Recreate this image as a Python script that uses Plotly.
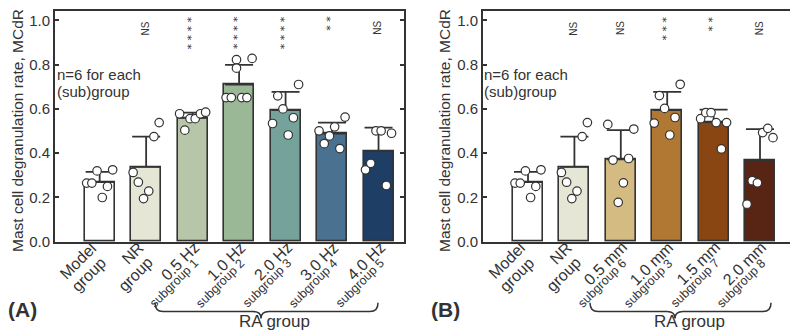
import numpy as np
import plotly.graph_objects as go

W, H = 798, 335
FONT = "Liberation Sans"
INK = "#333333"

# ---------------- data: panel A (frequency) ----------------
a_top = ["Model", "NR", "0.5 Hz", "1.0 Hz", "2.0 Hz", "3.0 Hz", "4.0 Hz"]
a_sub = ["group", "group", "subgroup 1", "subgroup 2", "subgroup 3", "subgroup 4", "subgroup 5"]
a_means = [0.269, 0.338, 0.559, 0.710, 0.594, 0.488, 0.409]
a_sd = [0.047, 0.137, 0.024, 0.089, 0.083, 0.050, 0.106]
a_colors = ["#ffffff", "#e6e6d6", "#b7c6a8", "#9ab895", "#76a29c", "#4a718f", "#1f3e66"]
a_sig = ["", "NS", "* * * *", "* * * *", "* * * *", "* *", "NS"]
a_points = [
    [0.265, 0.265, 0.320, 0.200, 0.250, 0.325],
    [0.313, 0.269, 0.195, 0.229, 0.475, 0.538],
    [0.578, 0.504, 0.556, 0.556, 0.578, 0.585],
    [0.651, 0.651, 0.822, 0.784, 0.651, 0.651, 0.828],
    [0.534, 0.659, 0.600, 0.482, 0.560, 0.710],
    [0.501, 0.443, 0.478, 0.519, 0.421, 0.563],
    [0.325, 0.354, 0.501, 0.501, 0.254, 0.490],
]

# ---------------- data: panel B (distance) ----------------
b_top = ["Model", "NR", "0.5 mm", "1.0 mm", "1.5 mm", "2.0 mm"]
b_sub = ["group", "group", "subgroup 6", "subgroup 3", "subgroup 7", "subgroup 8"]
b_means = [0.269, 0.338, 0.372, 0.594, 0.540, 0.367]
b_sd = [0.047, 0.137, 0.132, 0.083, 0.057, 0.142]
b_colors = ["#ffffff", "#e6e6d6", "#d4bb82", "#b07832", "#8a4612", "#582414"]
b_sig = ["", "NS", "NS", "* * *", "* *", "NS"]
b_points = [
    [0.265, 0.265, 0.320, 0.200, 0.250, 0.325],
    [0.313, 0.269, 0.195, 0.229, 0.475, 0.538],
    [0.530, 0.369, 0.178, 0.266, 0.376, 0.509],
    [0.536, 0.660, 0.602, 0.482, 0.561, 0.711],
    [0.556, 0.583, 0.583, 0.538, 0.419, 0.538],
    [0.170, 0.276, 0.266, 0.493, 0.512, 0.470],
]

y_ticks = [0.0, 0.2, 0.4, 0.6, 0.8, 1.0]
y_title = "Mast cell degranulation rate, MCdR"
note1, note2 = "n=6 for each", "(sub)group"
group_name = "RA group"

# ---------------- layout helpers ----------------
def px(xp):
    return xp / W

def py(yp):
    return 1 - yp / H

SLOT = np.linspace(-0.28, 0.28, 6)
BAR_W = 0.645

fig = go.Figure()
annotations = []
shapes = []


def slots_for(vals):
    if len(vals) == 7:
        return [0, 1, 2, 2, 3, 4, 5]
    return list(range(len(vals)))


def add_panel(xa, ya, tops, subs, means, sd, colors, sig, points):
    n = len(means)
    idx = list(range(n))
    fig.add_trace(go.Bar(
        x=idx, y=means, width=BAR_W, xaxis=xa, yaxis=ya,
        marker=dict(color=colors, line=dict(color=INK, width=1.6)),
        error_y=dict(type="data", array=sd, arrayminus=[0] * n, symmetric=False,
                     color=INK, thickness=1.8, width=14),
        showlegend=False, hoverinfo="skip"))
    xs, ys = [], []
    for i, vals in enumerate(points):
        for s, v in zip(slots_for(vals), vals):
            xs.append(i + SLOT[s])
            ys.append(v)
    fig.add_trace(go.Scatter(
        x=xs, y=ys, mode="markers", xaxis=xa, yaxis=ya, cliponaxis=False,
        marker=dict(size=8.5, color="white", line=dict(color=INK, width=1.2)),
        showlegend=False, hoverinfo="skip"))
    for i in range(n):
        if sig[i]:
            big = sig[i].startswith("*")
            annotations.append(dict(
                x=i, y=1.0, xref=xa, yref=ya, text=sig[i], showarrow=False,
                textangle=-90, xanchor="center", yanchor="top",
                xshift=-1, yshift=5 if big else 0,
                borderpad=0,
                font=dict(family="DejaVu Sans" if big else FONT,
                          size=11 if big else 10, color=INK)))
        sub = subs[i].startswith("sub")
        if sub:
            l1, l2, s1, s2 = (5, 241), (6, 257), 16, 12.5
        else:
            l1, l2, s1, s2 = (-4, 241), (5, 256), 16, 16
        for (dx, yy), txt, fs in ((l1, tops[i], s1), (l2, subs[i], s2)):
            k = 0.707 * (fs * 1.15 + 2) / 2
            annotations.append(dict(
                x=i, y=py(yy - k), xref=xa, yref="paper", text=txt,
                showarrow=False, textangle=-45, xanchor="right", yanchor="top",
                xshift=dx + k, font=dict(family=FONT, size=fs, color=INK)))


def brace(x0, x1, xc, ytop=302, yline=311, ytip=318):
    r = 8
    d = (f"M {px(x0)},{py(ytop)} Q {px(x0)},{py(yline)} {px(x0 + r)},{py(yline)} "
         f"L {px(xc - r)},{py(yline)} Q {px(xc)},{py(yline)} {px(xc)},{py(ytip)} "
         f"Q {px(xc)},{py(yline)} {px(xc + r)},{py(yline)} "
         f"L {px(x1 - r)},{py(yline)} Q {px(x1)},{py(yline)} {px(x1)},{py(ytop)}")
    shapes.append(dict(type="path", path=d, xref="paper", yref="paper",
                       line=dict(color=INK, width=1.5)))


add_panel("x", "y", a_top, a_sub, a_means, a_sd, a_colors, a_sig, a_points)
add_panel("x2", "y2", b_top, b_sub, b_means, b_sd, b_colors, b_sig, b_points)

brace(147, 370, 253)
brace(582, 763, 667)

panel_text = [
    dict(title_x=10, note_x=48, lab_x=-2, lab="(A)", ra_x=229),
    dict(title_x=437, note_x=475, lab_x=421, lab="(B)", ra_x=644),
]
for p in panel_text:
    annotations.append(dict(x=px(p["title_x"]), y=py(126), xref="paper", yref="paper",
                            text=y_title, textangle=-90, showarrow=False,
                            xanchor="center", yanchor="middle",
                            font=dict(family=FONT, size=15.5, color=INK)))
    annotations.append(dict(x=px(p["note_x"]), y=py(68.5), xref="paper", yref="paper",
                            text=note1, showarrow=False, xanchor="left", yanchor="middle",
                            borderpad=0,
                            font=dict(family=FONT, size=15, color=INK)))
    annotations.append(dict(x=px(p["note_x"]), y=py(86), xref="paper", yref="paper",
                            text=note2, showarrow=False, xanchor="left", yanchor="middle",
                            borderpad=0,
                            font=dict(family=FONT, size=15, color=INK)))
    annotations.append(dict(x=px(p["lab_x"]), y=py(309), xref="paper", yref="paper",
                            text="<b>" + p["lab"] + "</b>", showarrow=False,
                            xanchor="left", yanchor="middle",
                            font=dict(family=FONT, size=21, color=INK)))
    annotations.append(dict(x=px(p["ra_x"]), y=py(321), xref="paper", yref="paper",
                            text=group_name, showarrow=False,
                            xanchor="left", yanchor="middle",
                            font=dict(family=FONT, size=17, color=INK)))

ydom = [py(239.5), py(3.5)]
yax = dict(range=[0, 1.04], domain=ydom, tickvals=y_ticks, tickformat=".1f",
           ticks="inside", ticklen=4, tickwidth=1.5, tickcolor=INK,
           showline=True, linecolor=INK, linewidth=1.8, mirror="ticks",
           showgrid=False, zeroline=False,
           tickfont=dict(family=FONT, size=15, color=INK))
xax = dict(showline=True, linecolor=INK, linewidth=1.8, mirror=True,
           showticklabels=False, ticks="", showgrid=False, zeroline=False)

fig.update_layout(
    width=W, height=H, autosize=False,
    margin=dict(l=0, r=0, t=0, b=0),
    paper_bgcolor="white", plot_bgcolor="white",
    xaxis=dict(xax, domain=[px(47), px(396)], range=[-0.961, 6.548], anchor="y"),
    yaxis=dict(yax, anchor="x"),
    xaxis2=dict(xax, domain=[px(475), px(790)], range=[-0.970, 5.819], anchor="y2"),
    yaxis2=dict(yax, anchor="x2"),
    annotations=annotations, shapes=shapes,
    bargap=0,
)

fig.write_html("out.html")
